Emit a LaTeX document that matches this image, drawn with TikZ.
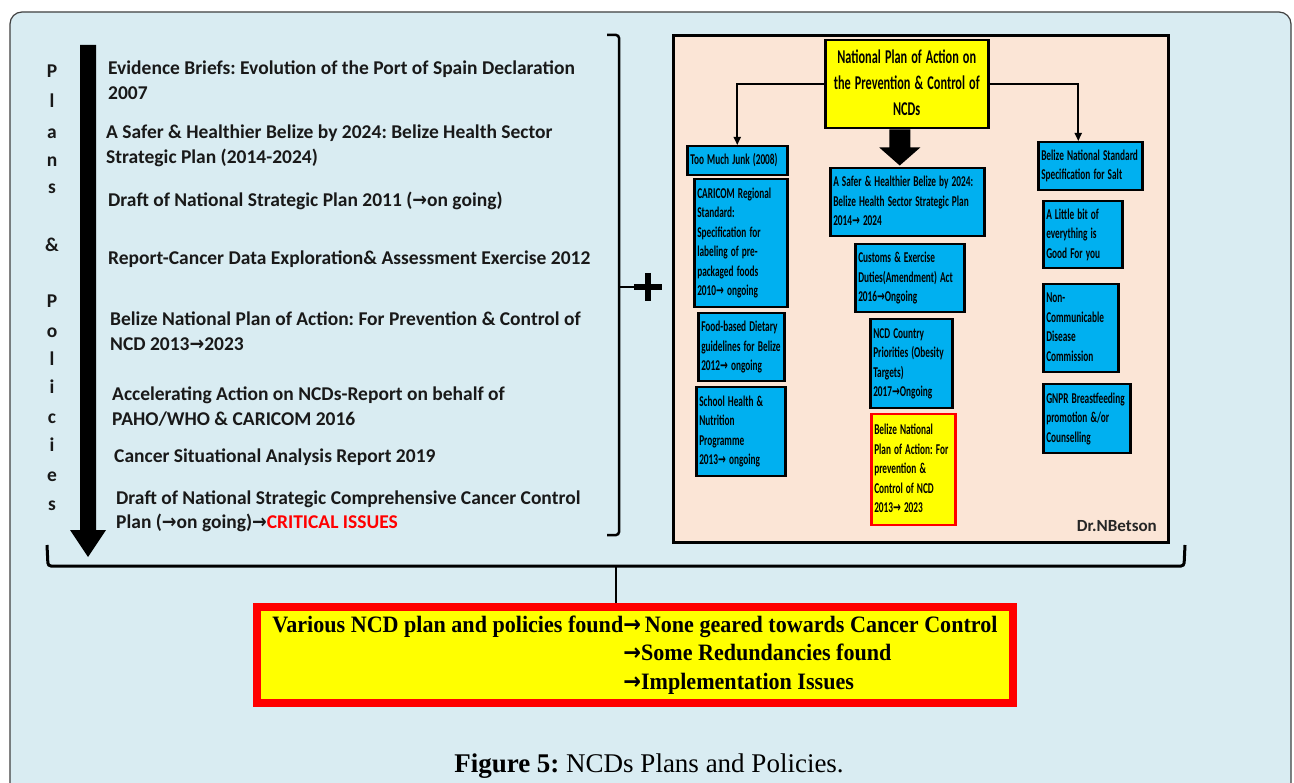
\documentclass[tikz,border=0pt]{standalone}
\usepackage{fontspec}
\setmainfont{Carlito}
\newfontfamily\listfont{Carlito}
\newfontfamily\boxfont{Carlito}
\newfontfamily\timesc[FakeStretch=0.94]{Liberation Serif}
\newfontfamily\capfont{Liberation Serif}
\newfontfamily\arrf[FakeStretch=0.9]{DejaVu Sans}
\newfontfamily\arrfb{DejaVu Sans}
\newcommand\ra{{\arrf\bfseries →}}
\newcommand\rac{{\arrfb\bfseries →}}
\newcommand\rat{{\arrf\bfseries →}}
\newcommand\bt[1]{\scalebox{0.62}[1]{\begin{tabular}{@{}l@{}}#1\end{tabular}}}
\newcommand\btc[1]{\scalebox{0.63}[1]{\begin{tabular}{@{}c@{}}#1\end{tabular}}}
\usetikzlibrary{calc,arrows.meta}
\definecolor{panelbg}{HTML}{D9ECF2}
\definecolor{peach}{HTML}{FBE5D6}
\definecolor{cblue}{HTML}{00B0F0}
\definecolor{cyel}{HTML}{FFFF00}
\definecolor{cred}{HTML}{FF0000}
\frenchspacing
\begin{document}
\frenchspacing
\begin{tikzpicture}[x=1pt,y=-1pt,
 lst/.style={anchor=base west, inner sep=0pt, text=black!90, font=\listfont\bfseries\fontsize{19.5}{23}\selectfont},
 ltr/.style={anchor=base, inner sep=0pt, text=black!90, font=\listfont\bfseries\fontsize{19.5}{23}\selectfont},
 bx/.style={draw=black, line width=2.5pt, fill=cblue, anchor=north west, align=left, inner xsep=3pt, inner ysep=0pt, font=\boxfont\bfseries\fontsize{15}{19.5}\selectfont},
 ybx/.style={bx, fill=cyel, draw=cred},
 conn/.style={line width=1.8pt, -{Triangle[length=8pt,width=7pt]}},
 brk/.style={line width=2.5pt, rounded corners=3pt}
]
\useasboundingbox (0,0) rectangle (1294,783);
\clip (0,0) rectangle (1294,783);
\fill[white] (0,0) rectangle (1294,783);
\draw[draw=black!75, line width=1.2pt, fill=panelbg, rounded corners=12pt] (10,12) rectangle (1291,800);

% vertical letters
\foreach \c/\yy in {P/78, l/108, a/139, n/167, s/194, \&/252, P/308, o/338, l/366, i/394, c/424, i/452, e/482, s/511}
  \node[ltr] at (52,\yy) {\c};

% big left arrow
\fill (80,45) -- (96,45) -- (96,530) -- (106,530) -- (88,557) -- (70,530) -- (80,530) -- cycle;

% list
\node[lst] (l1a) at (108,75) {Evidence Briefs: Evolution of the Port of Spain Declaration};
\node[lst] (l1b) at (108,100) {2007};
\node[lst] (l2a) at (106,139) {A Safer \& Healthier Belize by 2024: Belize Health Sector};
\node[lst] (l2b) at (106,164) {Strategic Plan (2014-2024)};
\node[lst] (l3) at (108,207) {Draft of National Strategic Plan 2011 (\ra on going)};
\node[lst] (l4) at (108,265) {Report-Cancer Data Exploration\& Assessment Exercise 2012};
\node[lst] (l5a) at (110,326) {Belize National Plan of Action: For Prevention \& Control of};
\node[lst] (l5b) at (110,351) {NCD 2013\ra 2023};
\node[lst] (l6a) at (112,401) {Accelerating Action on NCDs-Report on behalf of};
\node[lst] (l6b) at (112,426) {PAHO/WHO \& CARICOM 2016};
\node[lst] (l7) at (114,463) {Cancer Situational Analysis Report 2019};
\node[lst] (l8a) at (116,504) {Draft of National Strategic Comprehensive Cancer Control};
\node[lst] (l8b) at (116,529) {Plan (\ra on going)\ra\textcolor{cred}{CRITICAL ISSUES}};

% right bracket and plus
\draw[brk] (607,35) -- (619,35) -- (619,535) -- (607,535);
\coordinate (bm) at (619,287);
\coordinate (plus) at (648,287);
\draw[line width=2pt] (bm) -- ($(plus)+(-14,0)$);
\draw[line width=6pt] ($(plus)+(-14,0)$) -- ($(plus)+(14,0)$) ($(plus)+(0,-14)$) -- ($(plus)+(0,14)$);

% right panel
\draw[line width=3pt, fill=peach] (673,36) rectangle (1168,542);
\node[bx, fill=cyel, align=center, text width=157pt, minimum height=88pt, font=\boxfont\bfseries\fontsize{19.5}{26}\selectfont] (npa) at (824,39) {\btc{National Plan of Action on\\the Prevention \& Control of\\NCDs}};

\node[bx, text width=94pt, minimum height=29pt] (junk) at (686,145) {\bt{Too Much Junk (2008)}};
\node[bx, text width=87pt, minimum height=128pt] (caricom) at (693,178) {\bt{CARICOM Regional\\Standard:\\Specification for\\labeling of pre-\\packaged foods\\2010\rac{} ongoing}};
\node[bx, text width=80pt, minimum height=68pt] (food) at (697,312) {\bt{Food-based Dietary\\guidelines for Belize\\2012\rac{} ongoing}};
\node[bx, text width=83pt, minimum height=89pt] (school) at (695,386) {\bt{School Health \&\\Nutrition\\Programme\\2013\rac{} ongoing}};

\node[bx, text width=148pt, minimum height=68pt] (safer) at (829,167) {\bt{A Safer \& Healthier Belize by 2024:\\Belize Health Sector Strategic Plan\\2014\rac{} 2024}};
\node[bx, text width=103pt, minimum height=68pt] (customs) at (854,243) {\bt{Customs \& Exercise\\Duties(Amendment) Act\\2016\rac Ongoing}};
\node[bx, text width=76pt, minimum height=89pt] (ncdc) at (869,318) {\bt{NCD Country\\Priorities (Obesity\\Targets)\\2017\rac Ongoing}};
\node[ybx, text width=78pt, minimum height=111pt] (bnp) at (870,413) {\bt{Belize National\\Plan of Action: For\\prevention \&\\Control of NCD\\2013\rac{} 2023}};

\node[bx, text width=98pt, minimum height=48pt] (salt) at (1037,141) {\bt{Belize National Standard\\Specification for Salt}};
\node[bx, text width=73pt, minimum height=67pt] (little) at (1042,200) {\bt{A Little bit of\\everything is\\Good For you}};
\node[bx, text width=69pt, minimum height=88pt] (ncdcom) at (1042,283) {\bt{Non-\\Communicable\\Disease\\Commission}};
\node[bx, text width=81pt, minimum height=69pt] (gnpr) at (1042,383) {\bt{GNPR Breastfeeding\\promotion \&/or\\Counselling}};

\node[anchor=base east, inner sep=0pt, font=\bfseries\fontsize{17}{20}\selectfont, text=black!85] (auth) at (1157,532) {Dr.NBetson};

% connectors
\draw[conn] (npa.west) -| (junk.north);
\draw[conn] (npa.east) -| ([xshift=-12pt]salt.north);
\coordinate (ba) at ($(npa.south)+(-7,0)$);
\fill ($(ba)+(-10.5,0)$) -- ($(ba)+(10.5,0)$) -- ($(ba)+(10.5,18)$) -- ($(ba)+(20.5,18)$) -- ($(ba)+(0,36)$) -- ($(ba)+(-20.5,18)$) -- ($(ba)+(-10.5,18)$) -- cycle;

% bottom bracket and summary
\draw[brk, line width=3pt] (47,545) -- (48,566) -- (1184,566) -- (1185,545);
\node[draw=cred, line width=8pt, fill=cyel, anchor=north west, minimum width=756pt, minimum height=96pt, inner sep=0pt, font=\timesc\bfseries\fontsize{23.5}{28.5}\selectfont] (sum) at (253,603) {\begin{tabular}{@{}r@{}l@{}}Various NCD plan and policies found&\rat\,None geared towards Cancer Control\\ &\rat Some Redundancies found\\ &\rat Implementation Issues\end{tabular}};
\coordinate (bb) at (616,566);
\draw[line width=2.5pt] (bb) -- (bb |- sum.north);

% caption
\node[font=\capfont\fontsize{27}{30}\selectfont, inner sep=0pt, anchor=base] (cap) at (649,772) {\textbf{Figure 5:} NCDs Plans and Policies.};
\end{tikzpicture}
\end{document}
